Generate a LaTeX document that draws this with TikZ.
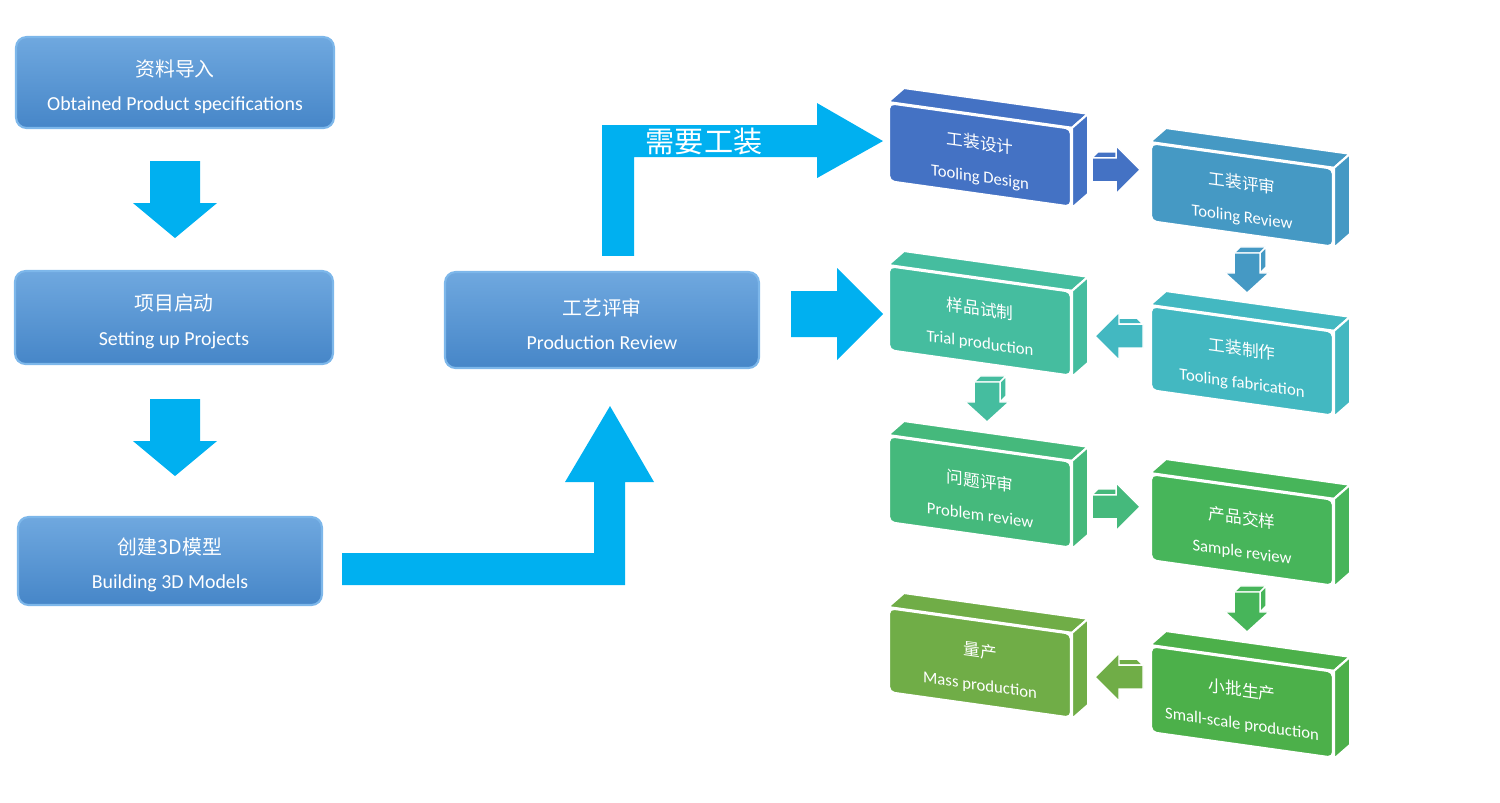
\documentclass[tikz,border=0pt]{standalone}
\usepackage{fontspec}
\setmainfont{Carlito}
\newfontfamily\cjk{Noto Sans CJK SC}
\usepackage{tikz}
\usetikzlibrary{calc}
\usetikzlibrary{positioning}

\definecolor{boxtop}{HTML}{6FA8DF}
\definecolor{boxbottom}{HTML}{4686C8}
\definecolor{boxedge}{HTML}{7DB7EA}
\definecolor{arrowcyan}{HTML}{00B0F0}
\definecolor{tdblue}{HTML}{4472C4}
\definecolor{trblue}{HTML}{4599C4}
\definecolor{tfteal}{HTML}{43B8C1}
\definecolor{tpgreen}{HTML}{45BD9F}
\definecolor{prgreen}{HTML}{45B97C}
\definecolor{srgreen}{HTML}{47B55A}
\definecolor{spgreen}{HTML}{4CB04A}
\definecolor{mpgreen}{HTML}{70AD47}

% first line of a box, a bit lower
\newcommand{\cntext}[2]{\rule{0pt}{#1}{\cjk #2}}

% slab: name, top left corner, height, colour, chinese, english
\newcommand{\slab}[6]{%
  \node (#1) at #2 [slabface, anchor=north west, fill=#4, minimum height=#3] {\cntext{14pt}{#5}\\#6};
  \filldraw[slabside, fill=#4] (#1.north west) -- (#1.north east) -- ($(#1.north east)+(16,-14)$) -- ($(#1.north west)+(16,-14)$) -- cycle;
  \filldraw[slabside, fill=#4] (#1.north east) -- (#1.south east) -- ($(#1.south east)+(16,-14)$) -- ($(#1.north east)+(16,-14)$) -- cycle;
}
% small 3d arrow pointing right, from its left middle
\newcommand{\rightcube}[3][]{%
  \begin{scope}[shift={#2}, #1]
    \filldraw[cubeside, fill=#3] (0,-12) -- (6,-18) -- (27,-18) -- (24,-12) -- cycle;
    \filldraw[cubeside, fill=#3] (0,-12) -- (24,-12) -- (24,-24) -- (48,0) -- (24,24) -- (24,12) -- (0,12) -- cycle;
  \end{scope}}
% small 3d arrow pointing down, from its top middle
\newcommand{\downcube}[2]{%
  \begin{scope}[shift={#1}]
    \filldraw[cubeside, fill=#2] (-13,0) -- (-7,-6) -- (19,-6) -- (13,0) -- cycle;
    \filldraw[cubeside, fill=#2] (13,0) -- (19,-6) -- (19,14) -- (13,20) -- cycle;
    \filldraw[cubeside, fill=#2] (-13,0) -- (13,0) -- (13,20) -- (22,20) -- (0,40) -- (-22,20) -- (-13,20) -- cycle;
  \end{scope}}

\begin{document}
\begin{tikzpicture}[x=0.02cm, y=-0.02cm,
    flatbox/.style={rounded corners=6pt, top color=boxtop, bottom color=boxbottom, draw=boxedge, line width=1.2pt,
        text=white, align=center, font=\fontsize{11.3}{19.5}\selectfont},
    slabface/.style={yslant=-0.14, rounded corners=3pt, draw=white, line width=1.2pt, minimum width=3.64cm,
        inner sep=0pt, text=white, align=center, font=\fontsize{9.5}{19}\selectfont},
    slabside/.style={draw=white, line width=1.2pt},
    cubeside/.style={draw=white, line width=0.8pt},
    bigarrow/.style={fill=arrowcyan}]
    \useasboundingbox (0,0) rectangle (1500,802);

    % left column
    \node (import) at (175,82.5) [flatbox, minimum width=6.36cm, minimum height=1.82cm] {\cntext{14pt}{资料导入}\\Obtained Product specifications};
    \node (kickoff) at (174,317.5) [flatbox, minimum width=6.36cm, minimum height=1.86cm] {\cntext{14pt}{项目启动}\\Setting up Projects};
    \node (model) at (170,561) [flatbox, minimum width=6.08cm, minimum height=1.76cm] {\cntext{14pt}{创建3D模型}\\Building 3D Models};
    \node (review) at (602,320) [flatbox, minimum width=6.28cm, minimum height=1.92cm] {\cntext{14pt}{工艺评审}\\Production Review};

    % slabs
    \slab{td}{(888,102)}{1.56cm}{tdblue}{工装设计}{Tooling Design}
    \slab{tr}{(1150,142)}{1.56cm}{trblue}{工装评审}{Tooling Review}
    \slab{tp}{(888,265)}{1.68cm}{tpgreen}{样品试制}{Trial production}
    \slab{tf}{(1150,305)}{1.68cm}{tfteal}{工装制作}{Tooling fabrication}
    \slab{pr}{(888,435)}{1.72cm}{prgreen}{问题评审}{Problem review}
    \slab{sr}{(1150,473)}{1.72cm}{srgreen}{产品交样}{Sample review}
    \slab{mp}{(888,607)}{1.68cm}{mpgreen}{量产}{Mass production}
    \slab{sp}{(1150,645)}{1.72cm}{spgreen}{小批生产}{Small-scale production}

    % big arrows
    \begin{scope}[shift={($(import.south)+(0,32)$)}]
        \fill[bigarrow] (-25,0) -- (25,0) -- (25,42) -- (42,42) -- (0,77) -- (-42,42) -- (-25,42) -- cycle;
    \end{scope}
    \begin{scope}[shift={($(kickoff.south)+(1,34)$)}]
        \fill[bigarrow] (-25,0) -- (25,0) -- (25,42) -- (42,42) -- (0,77) -- (-42,42) -- (-25,42) -- cycle;
    \end{scope}

    \coordinate (m) at ($(model.east)+(19,8)$);
    \coordinate (t) at ($(review.south)+(8,37)$);
    \fill[bigarrow] ($(m)+(0,-16)$) -- ($(t|-m)+(-16,-16)$) -- ($(t)+(-16,76)$) -- ($(t)+(-45,76)$) -- (t)
        -- ($(t)+(44,76)$) -- ($(t)+(15,76)$) -- ($(t|-m)+(15,16)$) -- ($(m)+(0,16)$) -- cycle;

    \coordinate (s) at ($(review.north)+(16,-15)$);
    \coordinate (u) at ($(td.west)+(-5,-1)$);
    \fill[bigarrow] ($(s)+(-16,0)$) -- ($(s|-u)+(-16,-16)$) -- ($(u)+(-66,-16)$) -- ($(u)+(-66,-38)$) -- (u)
        -- ($(u)+(-66,37)$) -- ($(u)+(-66,16)$) -- ($(s|-u)+(16,16)$) -- ($(s)+(16,0)$) -- cycle;
    \node (needtool) at ($(s|-u)+(86,0)$) [text=white, font=\cjk\fontsize{16.6}{20}\selectfont] {需要工装};

    \coordinate (v) at ($(review.east)+(31,-6)$);
    \coordinate (w) at ($(tp.west|-v)+(-5,0)$);
    \fill[bigarrow] ($(v)+(0,-23)$) -- ($(w)+(-46,-23)$) -- ($(w)+(-46,-46)$) -- (w)
        -- ($(w)+(-46,46)$) -- ($(w)+(-46,23)$) -- ($(v)+(0,23)$) -- cycle;

    % small arrows
    \rightcube{($(td.east)+(20,2)$)}{tdblue}
    \downcube{($(tr.south)+(5,18)$)}{trblue}
    \rightcube[xscale=-1]{($(tf.west)+(-7,-12)$)}{tfteal}
    \downcube{($(tp.south)+(7,18)$)}{tpgreen}
    \rightcube{($(pr.east)+(20,2)$)}{prgreen}
    \downcube{($(sr.south)+(5,18)$)}{srgreen}
    \rightcube[xscale=-1]{($(sp.west)+(-7,-12)$)}{mpgreen}
\end{tikzpicture}
\end{document}
